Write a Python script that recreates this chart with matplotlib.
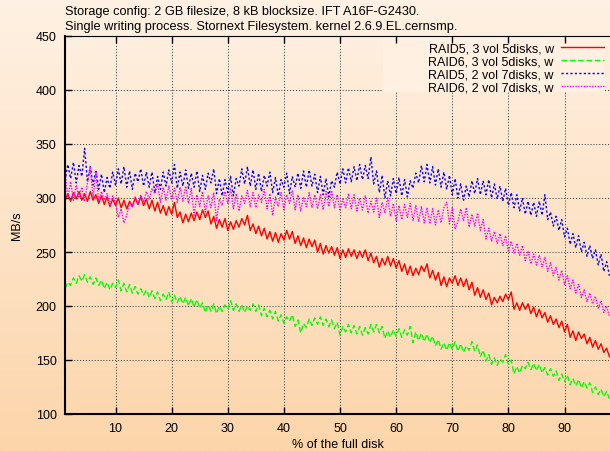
import numpy as np
import matplotlib
matplotlib.use("Agg")
import matplotlib.pyplot as plt
from matplotlib.patches import Rectangle

plt.rcParams['font.family'] = ['Liberation Sans', 'DejaVu Sans']

title_lines = ["Storage config: 2 GB filesize, 8 kB blocksize. IFT A16F-G2430.",
               "Single writing process. Stornext Filesystem. kernel 2.6.9.EL.cernsmp."]
labels = ["RAID5, 3 vol 5disks, w", "RAID6, 3 vol 5disks, w",
          "RAID5, 2 vol 7disks, w", "RAID6, 2 vol 7disks, w"]
xticks = [10, 20, 30, 40, 50, 60, 70, 80, 90]
yticks = [100, 150, 200, 250, 300, 350, 400, 450]

# % of disk, sampled every half percent from 1 to 98
pct = np.arange(1.0, 98.01, 0.5)

raid5_5d = [
    298, 304, 297, 305, 299, 306, 298, 304, 297, 306,
    298, 303, 295, 302, 294, 301, 292, 299, 293, 300,
    291, 298, 290, 297, 292, 300, 294, 301, 293, 299,
    290, 298, 288, 296, 286, 293, 284, 292, 285, 296,
    282, 287, 277, 285, 278, 286, 279, 287, 280, 289,
    282, 288, 276, 283, 272, 280, 273, 281, 270, 278,
    271, 279, 273, 281, 275, 284, 270, 276, 267, 274,
    265, 272, 262, 269, 260, 268, 259, 267, 261, 270,
    262, 269, 258, 265, 256, 263, 254, 262, 255, 261,
    250, 258, 248, 256, 249, 255, 247, 254, 244, 252,
    245, 253, 246, 252, 244, 251, 245, 252, 242, 249,
    240, 246, 236, 244, 238, 246, 237, 244, 235, 242,
    232, 239, 229, 237, 228, 235, 229, 237, 232, 239,
    226, 233, 224, 231, 219, 227, 218, 226, 221, 228,
    219, 226, 218, 225, 215, 222, 210, 217, 208, 215,
    206, 212, 201, 208, 203, 209, 204, 211, 206, 213,
    197, 203, 196, 203, 197, 202, 193, 199, 190, 197,
    189, 194, 185, 191, 183, 188, 180, 186, 176, 183,
    171, 177, 168, 176, 170, 174, 165, 171, 162, 168,
    160, 165, 157, 161, 153]

raid6_5d = [
    216, 222, 219, 226, 221, 228, 223, 229, 222, 227,
    220, 226, 219, 224, 216, 222, 215, 221, 217, 224,
    214, 221, 213, 220, 212, 218, 211, 216, 210, 215,
    208, 214, 207, 213, 205, 211, 206, 213, 204, 210,
    203, 209, 202, 208, 200, 207, 199, 206, 198, 203,
    194, 201, 195, 202, 193, 200, 195, 201, 197, 205,
    196, 202, 195, 201, 194, 200, 196, 202, 195, 201,
    191, 198, 190, 196, 188, 195, 186, 192, 184, 190,
    186, 192, 181, 187, 175, 184, 180, 188, 182, 189,
    183, 190, 182, 188, 181, 187, 179, 185, 173, 181,
    176, 183, 175, 182, 174, 181, 173, 180, 174, 183,
    176, 183, 175, 181, 170, 177, 171, 178, 172, 179,
    171, 178, 173, 181, 166, 176, 168, 175, 167, 174,
    166, 172, 163, 169, 160, 166, 159, 166, 160, 167,
    158, 165, 157, 163, 159, 167, 158, 164, 153, 159,
    149, 155, 146, 152, 145, 151, 148, 155, 146, 150,
    137, 144, 138, 145, 142, 148, 141, 147, 140, 146,
    138, 143, 136, 142, 135, 140, 131, 137, 130, 136,
    127, 133, 126, 132, 124, 130, 124, 129, 120, 125,
    118, 123, 116, 121, 114]

raid5_7d = [
    316, 331, 318, 333, 314, 330, 320, 346, 315, 329,
    312, 326, 308, 322, 305, 319, 309, 324, 312, 327,
    313, 329, 310, 325, 308, 323, 315, 327, 311, 324,
    310, 324, 305, 320, 308, 324, 311, 326, 314, 331,
    309, 324, 311, 326, 309, 323, 310, 325, 306, 321,
    308, 323, 314, 327, 304, 318, 302, 317, 305, 320,
    302, 318, 311, 327, 313, 329, 311, 326, 308, 323,
    306, 321, 311, 324, 305, 319, 302, 317, 310, 323,
    304, 320, 310, 323, 309, 325, 310, 326, 311, 322,
    305, 320, 303, 318, 301, 316, 310, 324, 313, 327,
    314, 328, 315, 329, 316, 331, 317, 330, 318, 338,
    313, 325, 305, 321, 300, 316, 302, 318, 304, 319,
    302, 317, 301, 316, 309, 323, 314, 330, 315, 331,
    314, 329, 312, 327, 310, 324, 308, 321, 303, 318,
    300, 313, 298, 311, 301, 316, 304, 318, 303, 316,
    303, 317, 300, 313, 299, 311, 297, 309, 293, 305,
    291, 303, 288, 300, 285, 297, 284, 296, 283, 297,
    284, 303, 280, 287, 274, 283, 270, 280, 264, 272,
    257, 267, 254, 265, 250, 259, 246, 256, 244, 252,
    238, 248, 232, 241, 228]

raid6_7d = [
    325, 300, 315, 298, 312, 300, 310, 297, 314, 328,
    300, 324, 297, 306, 298, 304, 293, 302, 296, 282,
    290, 277, 284, 296, 292, 301, 294, 303, 296, 306,
    299, 309, 304, 313, 296, 310, 298, 311, 299, 309,
    296, 310, 297, 311, 295, 309, 284, 303, 292, 306,
    287, 302, 291, 305, 279, 299, 293, 306, 295, 309,
    290, 304, 288, 302, 295, 307, 292, 305, 291, 303,
    296, 308, 290, 304, 284, 301, 292, 305, 289, 303,
    295, 307, 289, 303, 288, 301, 292, 305, 291, 303,
    290, 303, 289, 306, 292, 307, 291, 303, 288, 299,
    291, 304, 290, 303, 288, 300, 289, 302, 286, 297,
    287, 300, 282, 296, 286, 301, 283, 295, 279, 293,
    280, 294, 282, 295, 279, 293, 278, 292, 277, 291,
    276, 290, 275, 289, 277, 291, 296, 276, 291, 271,
    278, 290, 279, 291, 273, 285, 274, 286, 270, 280,
    262, 272, 260, 269, 258, 267, 256, 265, 250, 260,
    249, 258, 247, 256, 242, 251, 239, 248, 238, 247,
    236, 245, 232, 240, 228, 236, 224, 233, 220, 228,
    216, 224, 212, 220, 208, 215, 204, 212, 202, 209,
    198, 205, 194, 200, 190]

series = [raid5_5d, raid6_5d, raid5_7d, raid6_7d]
colors = ["#ff0000", "#00ff00", "#0000ff", "#ff00ff"]
styles = ["-", (0, (4, 2)), (0, (1.6, 1.6)), (0, (1, 1))]

fig = plt.figure(figsize=(6.1, 4.52), dpi=100)

# peach vertical gradient behind everything
bg = fig.add_axes([0, 0, 1, 1], zorder=-1)
top = np.array([255, 241, 227]) / 255
bot = np.array([252, 213, 170]) / 255
t = np.linspace(0, 1, 256)[:, None]
grad = (top * (1 - t) + bot * t)[:, None, :]
bg.imshow(grad, aspect="auto", extent=[0, 1, 0, 1])
bg.axis("off")

ax = fig.add_axes([65 / 610, 37 / 452, 545 / 610, 378 / 452])
ax.set_facecolor("none")

for v in xticks:
    ax.axvline(v, color="#333333", lw=0.7, ls=(0, (1, 2)), zorder=0.5)
for v in yticks:
    ax.axhline(v, color="#333333", lw=0.7, ls=(0, (1, 2)), zorder=0.5)

# opaque key box like gnuplot
ax.add_patch(Rectangle((0.583, 0.852), 0.408, 0.148, transform=ax.transAxes,
                       facecolor="#fff0e1", edgecolor="none", zorder=1))

for ys, c, s, lab in zip(series, colors, styles, labels):
    ax.plot(pct, ys, color=c, ls=s, lw=1.0, label=lab, zorder=2)

ax.set_xlim(1, 98.1)
ax.set_ylim(100, 450)
ax.set_xticks(xticks)
ax.set_yticks(yticks)
ax.tick_params(direction="in", length=5, width=1, top=True, right=False,
               labelsize=9, pad=6, colors="black")
ax.spines["left"].set_linewidth(1.5)
ax.spines["bottom"].set_linewidth(1.5)
ax.spines["top"].set_linewidth(0.8)
ax.spines["right"].set_visible(False)

ax.set_xlabel("% of the full disk", fontsize=9, labelpad=2.5)
ax.set_ylabel("MB/s", fontsize=9, labelpad=9)

leg = ax.legend(loc="upper right", markerfirst=False, frameon=False,
                fontsize=9, handlelength=3.4, handletextpad=0.6,
                labelspacing=0.08, borderaxespad=0.3, borderpad=0.2)
for txt in leg.get_texts():
    txt.set_ha("right")
leg.set_zorder(3)

fig.text(65 / 610, 1 - 12 / 452, title_lines[0], fontsize=9.2, va="center", ha="left")
fig.text(65 / 610, 1 - 27 / 452, title_lines[1], fontsize=9.2, va="center", ha="left")

fig.savefig("out.png", dpi=100)
